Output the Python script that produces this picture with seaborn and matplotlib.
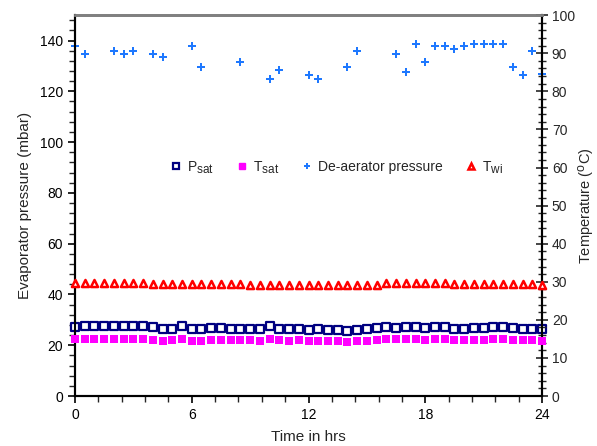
import matplotlib
matplotlib.use("Agg")
import matplotlib.pyplot as plt
import matplotlib._mathtext as mathtext_impl
import pandas as pd
import seaborn as sns
from matplotlib.lines import Line2D
from matplotlib.ticker import MultipleLocator

# Время замеров, ч (шаг 0.5)
hours = [i * 0.5 for i in range(49)]

# Давление насыщения в испарителе, мбар
p_sat = [27.3, 27.7, 27.7, 27.7, 27.4, 27.4, 27.7, 27.7, 27.0, 26.4,
         26.4, 27.4, 26.4, 26.3, 26.8, 26.8, 26.6, 26.6, 26.6, 26.4,
         27.4, 26.6, 26.3, 26.4, 26.1, 26.4, 25.9, 25.9, 25.6, 25.9,
         26.3, 26.8, 27.3, 26.9, 27.3, 27.0, 26.9, 27.1, 27.1, 26.5,
         26.6, 26.8, 26.8, 27.3, 27.3, 26.9, 26.6, 26.6, 26.6]

# Температура насыщения, °C
t_sat = [15.0, 15.0, 15.0, 15.0, 15.0, 15.0, 15.0, 15.0, 14.7, 14.5,
         14.7, 15.0, 14.5, 14.5, 14.7, 14.7, 14.7, 14.7, 14.7, 14.5,
         15.0, 14.7, 14.5, 14.7, 14.5, 14.5, 14.5, 14.5, 14.2, 14.5,
         14.5, 14.7, 15.0, 14.9, 15.0, 15.0, 14.8, 15.0, 15.0, 14.7,
         14.7, 14.7, 14.7, 15.0, 15.0, 14.7, 14.7, 14.7, 14.5]

# Температура воды на входе, °C
t_wi = [29.6, 29.6, 29.6, 29.6, 29.6, 29.6, 29.6, 29.6, 29.5, 29.5,
        29.5, 29.5, 29.4, 29.4, 29.4, 29.3, 29.3, 29.3, 29.2, 29.2,
        29.2, 29.2, 29.2, 29.1, 29.1, 29.1, 29.1, 29.1, 29.1, 29.1,
        29.1, 29.1, 29.7, 29.6, 29.6, 29.6, 29.6, 29.6, 29.6, 29.5,
        29.5, 29.5, 29.5, 29.5, 29.4, 29.4, 29.4, 29.3, 29.1]

# Давление в деаэраторе, мбар (замеры не каждые полчаса)
deaer_hours = [0, 0.5, 2, 2.5, 3, 4, 4.5, 6, 6.5, 8.5, 10, 10.5, 12, 12.5,
               14, 14.5, 16.5, 17, 17.5, 18, 18.5, 19, 19.5, 20, 20.5, 21,
               21.5, 22, 22.5, 23, 23.5, 24]
deaer_p = [137.8, 134.6, 135.7, 134.6, 135.7, 134.6, 133.7, 137.8, 129.7,
           131.6, 124.7, 128.6, 126.6, 124.7, 129.7, 135.7, 134.6, 127.7,
           138.7, 131.6, 137.8, 137.8, 136.7, 137.8, 138.7, 138.7, 138.7,
           138.7, 129.7, 126.6, 135.7, 126.8]

sns.set_style("ticks")
plt.rcParams["font.family"] = ["Liberation Sans", "DejaVu Sans"]
plt.rcParams["mathtext.fontset"] = "custom"
plt.rcParams["mathtext.rm"] = "Liberation Sans"
plt.rcParams["mathtext.it"] = "Liberation Sans"
# индексы в легенде крупнее, чем по умолчанию
mathtext_impl.SHRINK_FACTOR = 0.85

df = pd.DataFrame({"t": hours, "p_sat": p_sat, "t_sat": t_sat, "t_wi": t_wi})
dea = pd.DataFrame({"t": deaer_hours, "p": deaer_p})

fig = plt.figure(figsize=(5.97, 4.46), dpi=100)
ax = fig.add_axes([0.1256, 0.112, 0.7824, 0.854])
ax2 = ax.twinx()

sns.scatterplot(data=df, x="t", y="p_sat", ax=ax, marker="s", s=28,
                facecolor="white", edgecolor="#000080", linewidth=1.6,
                clip_on=False, zorder=3, legend=False)
sns.scatterplot(data=dea, x="t", y="p", ax=ax, marker="P", s=36,
                color="#1E78FF", linewidth=0, clip_on=False, zorder=3,
                legend=False)
sns.scatterplot(data=df, x="t", y="t_sat", ax=ax2, marker="s", s=28,
                color="#FF00FF", linewidth=0, clip_on=False, zorder=3,
                legend=False)
sns.scatterplot(data=df, x="t", y="t_wi", ax=ax2, marker="^", s=26,
                facecolor="white", edgecolor="#FF0000", linewidth=1.8,
                clip_on=False, zorder=3, legend=False)

ax.set_xlim(0, 24)
ax.set_ylim(0, 150)
ax2.set_ylim(0, 100)
ax.xaxis.set_major_locator(MultipleLocator(6))
ax.xaxis.set_minor_locator(MultipleLocator(1.2))
ax.set_yticks(range(0, 141, 20))
ax.yaxis.set_minor_locator(MultipleLocator(4))
ax2.yaxis.set_major_locator(MultipleLocator(10))
ax2.yaxis.set_minor_locator(MultipleLocator(2))

ax.tick_params(axis="both", which="major", direction="out", length=5,
               width=1.2, labelsize=10, colors="black")
ax.tick_params(axis="both", which="minor", direction="out", length=4,
               width=1.0)
ax2.tick_params(axis="y", which="major", direction="inout", length=8,
                width=1.2, labelsize=10, pad=3)
ax2.tick_params(axis="y", which="minor", direction="inout", length=6,
                width=1.0)

for a in (ax, ax2):
    for side in ("left", "right", "bottom"):
        a.spines[side].set_color("black")
        a.spines[side].set_linewidth(1.5)
    a.spines["top"].set_color("#808080")
    a.spines["top"].set_linewidth(2)
    a.spines["top"].set_visible(True)
    a.spines["right"].set_visible(True)

ax.set_xlabel("Time in hrs", fontsize=11, labelpad=6)
ax.set_ylabel("Evaporator pressure (mbar)", fontsize=11, labelpad=6)
ax2.set_ylabel("Temperature ($^{\\mathrm{o}}$C)", fontsize=10.5, labelpad=1)

# Общая легенда по обеим осям
handles = [
    Line2D([], [], ls="", marker="s", ms=5, mfc="white", mec="#000080", mew=1.6),
    Line2D([], [], ls="", marker="s", ms=5, color="#FF00FF"),
    Line2D([], [], ls="", marker="P", ms=5, color="#1E78FF", mew=0),
    Line2D([], [], ls="", marker="^", ms=5, mfc="white", mec="#FF0000", mew=1.8),
]
labels = ["P$_{\\mathrm{sat}}$", "T$_{\\mathrm{sat}}$", "De-aerator pressure",
          "T$_{\\mathrm{wi}}$"]
ax2.legend(handles, labels, ncol=4, frameon=False, fontsize=10,
           loc="center", bbox_to_anchor=(0.559, 0.60), handletextpad=0.3,
           columnspacing=1.5, handlelength=1.0)

fig.savefig("out.png", dpi=100)
